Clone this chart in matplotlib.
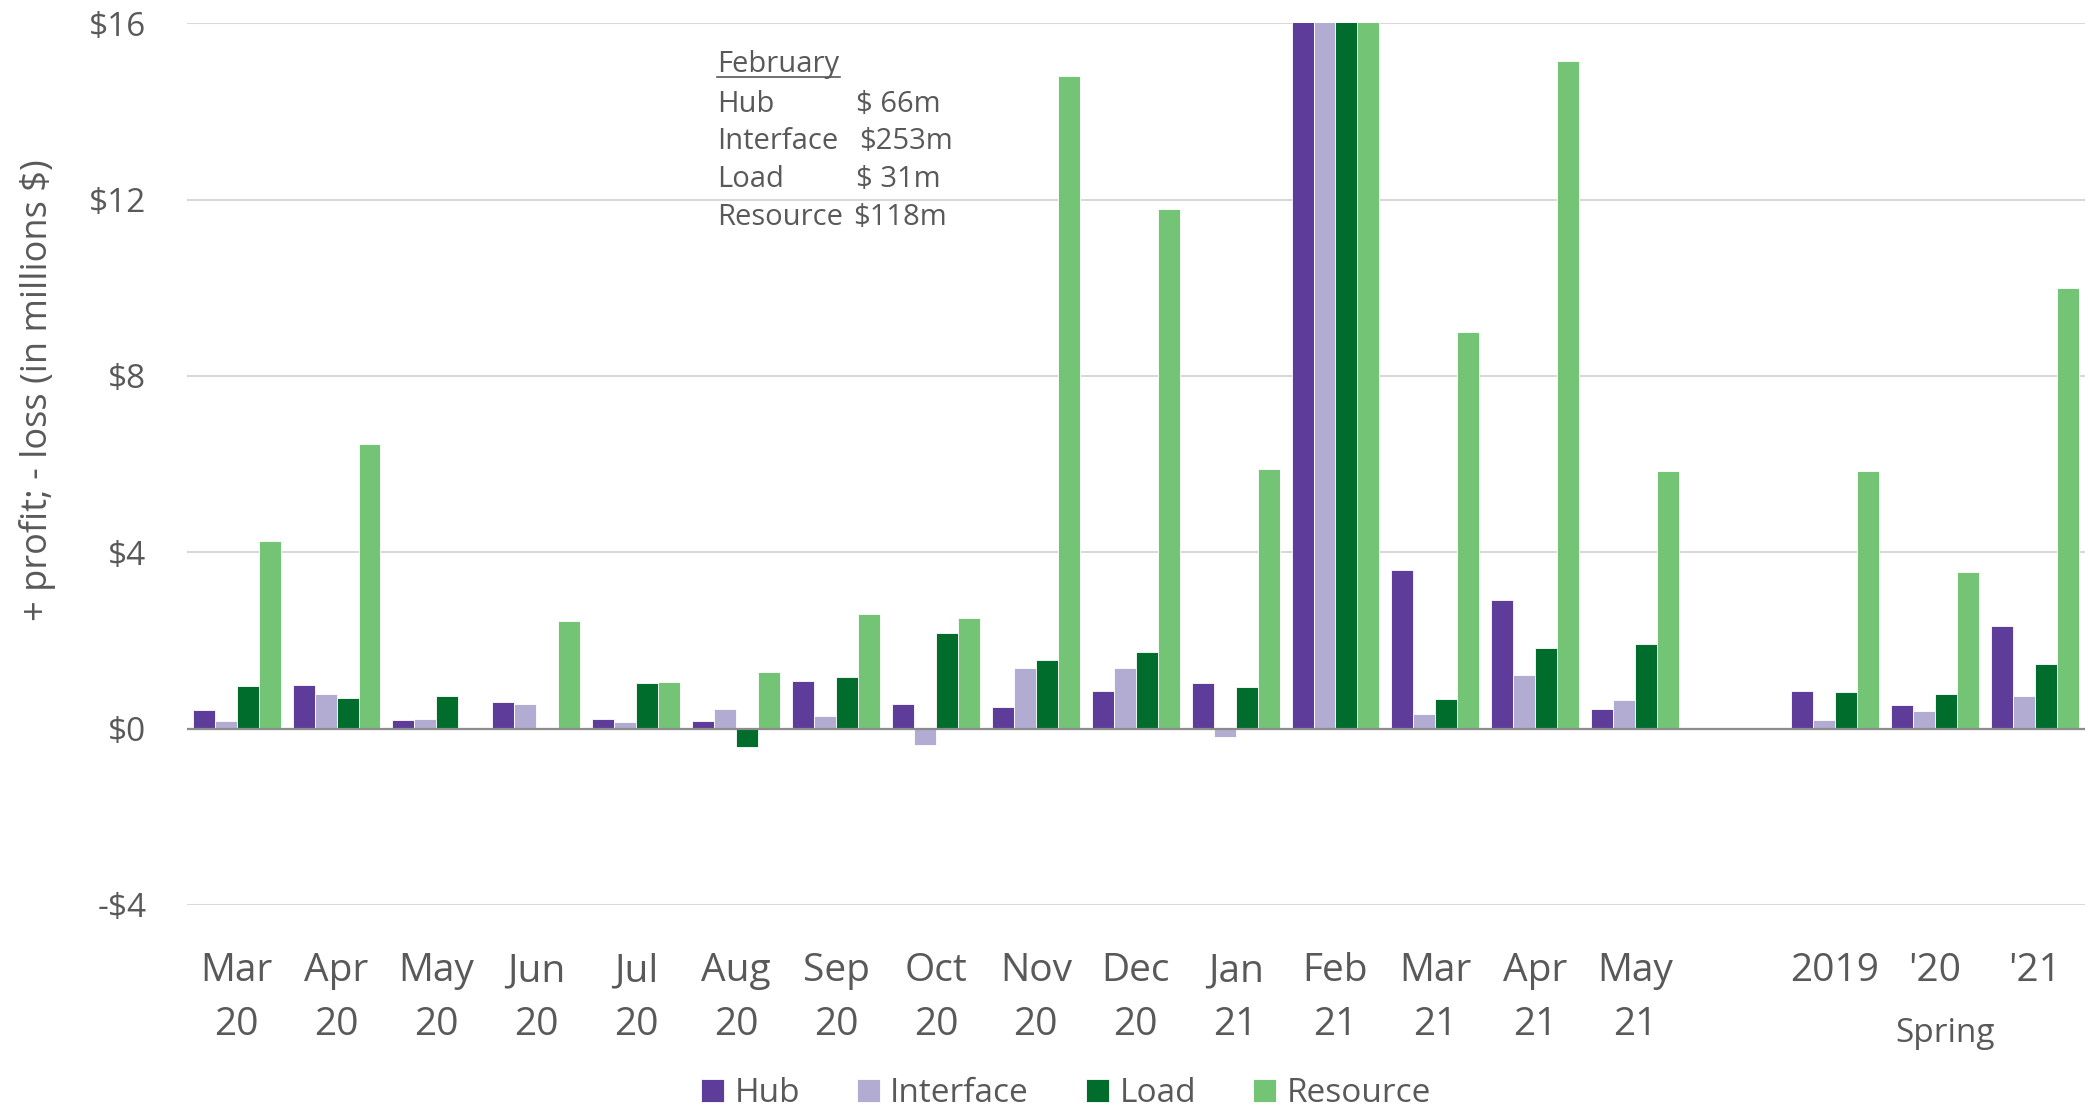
import matplotlib.pyplot as plt
import numpy as np
from matplotlib.lines import Line2D

# x categories: 15 months, an empty gap slot, then the three spring periods
months = ['Mar\n20', 'Apr\n20', 'May\n20', 'Jun\n20', 'Jul\n20', 'Aug\n20', 'Sep\n20',
          'Oct\n20', 'Nov\n20', 'Dec\n20', 'Jan\n21', 'Feb\n21', 'Mar\n21', 'Apr\n21',
          'May\n21', '', '2019', "'20", "'21"]

# values in millions $ (Feb 21 is off the chart, axis is cut at $16)
nan = np.nan
hub = [0.43, 1.00, 0.20, 0.60, 0.22, 0.18, 1.09, 0.56, 0.50, 0.86, 1.03, 66, 3.61, 2.92, 0.45,
       nan, 0.85, 0.54, 2.32]
interface = [0.17, 0.79, 0.21, 0.56, 0.15, 0.45, 0.28, -0.36, 1.38, 1.38, -0.20, 253, 0.34,
             1.22, 0.65, nan, 0.20, 0.39, 0.74]
load = [0.96, 0.70, 0.74, 0.0, 1.03, -0.42, 1.17, 2.18, 1.55, 1.74, 0.95, 31, 0.67, 1.84,
        1.93, nan, 0.83, 0.79, 1.47]
resource = [4.26, 6.46, 0.01, 2.45, 1.05, 1.28, 2.60, 2.51, 14.80, 11.78, 5.90, 118, 9.00,
            15.14, 5.84, nan, 5.85, 3.56, 9.99]

series = ['Hub', 'Interface', 'Load', 'Resource']
colors = ['#5E3C99', '#B2ABD2', '#006D2C', '#74C476']
feb_idx = 11

plt.rcParams['font.family'] = ['Open Sans', 'DejaVu Sans']
txt = '#595959'
W, H = 2088, 1108

fig = plt.figure(figsize=(W / 100, H / 100), dpi=100)
ax = fig.add_axes([186.7 / W, 1 - 905 / H, 1898 / W, (905 - 23.3) / H])

x = np.arange(len(months))
w = 0.22
for i, (vals, name, c) in enumerate(zip([hub, interface, load, resource], series, colors)):
    ax.bar(x + (i - 1.5) * w, vals, w, color=c, label=name, edgecolor='white', linewidth=0.6)

ax.set_xlim(-0.5, len(months) - 0.5)
ax.set_ylim(-4, 16)
ax.set_yticks([-4, 0, 4, 8, 12, 16])
ax.set_yticklabels(['-$4', '$0', '$4', '$8', '$12', '$16'])
ax.set_xticks(x)
ax.set_xticklabels(months, linespacing=1.55)
ax.tick_params(axis='x', length=0, pad=34, labelsize=28, labelcolor=txt)
ax.tick_params(axis='y', length=0, pad=29, labelsize=24, labelcolor=txt)

for s in ax.spines.values():
    s.set_visible(False)
ax.grid(axis='y', color='#D9D9D9', linewidth=1.5)
ax.set_axisbelow(True)
ax.axhline(0, color='#8C8C8C', linewidth=1.6, zorder=3)

fig.text(38 / W, 1 - 390 / H, '+ profit; - loss (in millions $)', rotation=90,
         ha='center', va='center', fontsize=26, color=txt)

fig.text(1945 / W, 1 - 1041.7 / H, 'Spring', ha='center', va='baseline', fontsize=24, color=txt)

# February call-out box
fs = 21
fig.text(716.7 / W, 1 - 71.7 / H, 'February', va='baseline', fontsize=fs, color=txt)
fig.add_artist(Line2D([716.7 / W, 840 / W], [1 - 77 / H, 1 - 77 / H], color=txt, linewidth=1.2))
feb_vals = [hub[feb_idx], interface[feb_idx], load[feb_idx], resource[feb_idx]]
base_y = [111.7, 149.3, 186.7, 225]
val_x = [856, 859, 856.5, 853]
for name, v, yy, xx in zip(series, feb_vals, base_y, val_x):
    fig.text(716.7 / W, 1 - yy / H, name, va='baseline', fontsize=fs, color=txt)
    s = f'${v:.0f}m' if v >= 100 else f'$ {v:.0f}m'
    fig.text(xx / W, 1 - yy / H, s, va='baseline', fontsize=fs, color=txt)

fig.legend(loc='center', bbox_to_anchor=(1066 / W, 1 - 1094 / H), ncol=4, frameon=False,
           fontsize=24, labelcolor=txt, handlelength=0.69, handleheight=0.69,
           handletextpad=0.3, columnspacing=1.72, borderpad=0, borderaxespad=0)

fig.savefig('out.png', dpi=100)
